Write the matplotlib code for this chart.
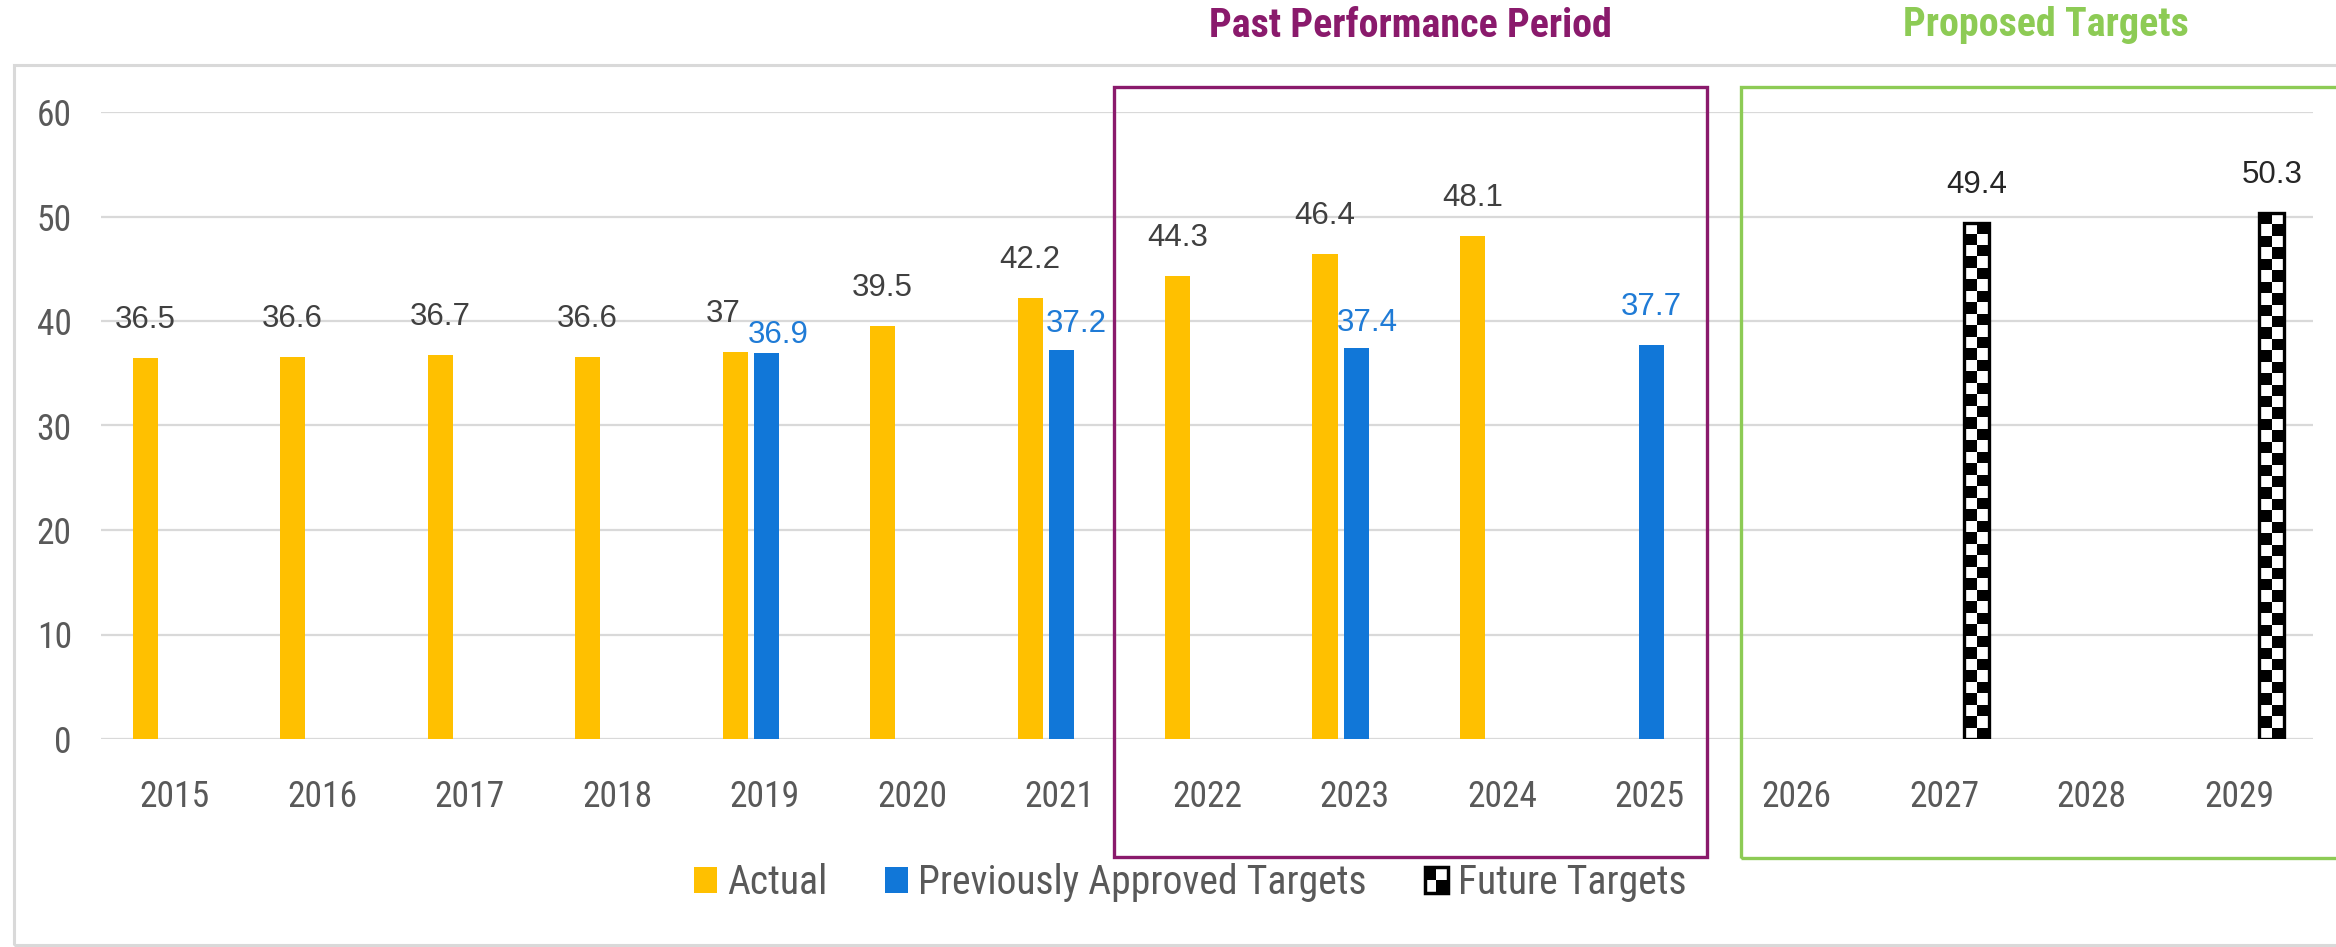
import numpy as np
import matplotlib
matplotlib.use("Agg")
import matplotlib.pyplot as plt
from matplotlib.patches import Patch, Rectangle
from matplotlib.legend_handler import HandlerBase
from matplotlib.colors import ListedColormap
from matplotlib.font_manager import fontManager, FontProperties
from matplotlib.textpath import TextPath

# chart data
years = ["2015", "2016", "2017", "2018", "2019", "2020", "2021", "2022",
         "2023", "2024", "2025", "2026", "2027", "2028", "2029"]
actual = [36.5, 36.6, 36.7, 36.6, 37, 39.5, 42.2, 44.3, 46.4, 48.1,
          None, None, None, None, None]
prev_targets = [None, None, None, None, 36.9, None, 37.2, None, 37.4, None,
                37.7, None, None, None, None]
future_targets = [None, None, None, None, None, None, None, None, None, None,
                  None, None, 49.4, None, 50.3]
series_names = ["Actual", "Previously Approved Targets", "Future Targets"]

YELLOW = "#FFC000"
BLUE = "#1177D8"
PURPLE = "#8A1A6C"
GREEN = "#8DCB55"

NARROW_CANDS = ["Liberation Sans Narrow", "Arial Narrow", "Archivo Narrow",
                "Roboto Condensed", "IBM Plex Sans Condensed",
                "Open Sans Condensed"]


def pick_font(cands, weight):
    # first family that has a static face close to the wanted weight
    for name in cands:
        ents = [f for f in fontManager.ttflist
                if f.name == name and f.style == "normal"
                and str(f.weight).isdigit()
                and abs(int(f.weight) - weight) <= 100
                and "[" not in f.fname]
        if ents:
            best = min(ents, key=lambda f: abs(int(f.weight) - weight))
            return FontProperties(fname=best.fname)
    for name in cands:
        if any(f.name == name for f in fontManager.ttflist):
            return FontProperties(family=name,
                                  weight="bold" if weight >= 600 else "normal")
    return FontProperties(family="DejaVu Sans",
                          weight="bold" if weight >= 600 else "normal")


def fit_size(fp, s, target_px):
    # font size (pt) that makes string s about target_px wide at dpi 100
    w = TextPath((0, 0), s, size=100, prop=fp).get_extents().width
    return target_px * 72.0 / w


def present(vals):
    idx = [i for i, v in enumerate(vals) if v is not None]
    return np.array(idx, dtype=float), np.array([vals[i] for i in idx])


class CheckerKey(Patch):
    pass


class CheckerHandler(HandlerBase):
    def create_artists(self, legend, orig_handle, xdescent, ydescent,
                       width, height, fontsize, trans):
        x0, y0 = -xdescent, -ydescent
        arts = [Rectangle((x0, y0), width, height, facecolor="white",
                          edgecolor="black", lw=2.5, transform=trans)]
        cw, ch = width / 2, height / 2
        for i, j in [(0, 1), (1, 0)]:
            arts.append(Rectangle((x0 + i * cw, y0 + j * ch), cw, ch,
                                  facecolor="black", edgecolor="none",
                                  transform=trans))
        return arts


narrow = pick_font(NARROW_CANDS, 400)
narrow_bold = pick_font(NARROW_CANDS, 700)
tick_size = fit_size(narrow, "2015", 67)
legend_size = fit_size(narrow, "Previously Approved Targets", 444)
title_size = fit_size(narrow_bold, "Past Performance Period", 400)

W, H = 2336, 947
fig = plt.figure(figsize=(W / 100, H / 100), dpi=100)
ax = fig.add_axes([101 / W, (H - 739) / H, 2212 / W, 627 / H])

bw = 0.17
xa, ya = present(actual)
xb, yb = present(prev_targets)
xf, yf = present(future_targets)

bars_a = ax.bar(xa - 0.2, ya, width=bw, color=YELLOW, zorder=3)
bars_b = ax.bar(xb + 0.015, yb, width=bw, color=BLUE, zorder=3)
bars_f = ax.bar(xf + 0.22, yf, width=bw, facecolor="none",
                edgecolor="black", linewidth=2.4, zorder=4)

# checkerboard fill for the future target bars
checker_cmap = ListedColormap(["white", "black"])
for rect in bars_f:
    x0, w, h = rect.get_x(), rect.get_width(), rect.get_height()
    rows = max(1, int(round(h / 1.1)))
    grid = np.add.outer(np.arange(rows), np.arange(2)) % 2
    im = ax.imshow(grid, cmap=checker_cmap, extent=(x0, x0 + w, 0, h),
                   origin="lower", interpolation="nearest", aspect="auto",
                   zorder=3.5)
    im.set_clip_path(rect)

ax.set_xlim(-0.5, len(years) - 0.5)
ax.set_ylim(0, 60)
ax.set_xticks(range(len(years)))
ax.set_xticklabels(years)
ax.set_yticks(range(0, 61, 10))
ax.yaxis.grid(True, color="#D9D9D9", lw=1.6)
ax.set_axisbelow(True)
for s in ax.spines.values():
    s.set_visible(False)
ax.tick_params(axis="x", length=0, pad=29, labelcolor="#595959")
ax.tick_params(axis="y", length=0, pad=21, labelcolor="#595959")
for lab in ax.get_xticklabels() + ax.get_yticklabels():
    lab.set_fontproperties(narrow)
    lab.set_fontsize(tick_size)

# value labels; a few were nudged by hand in the original
nudge = {("b", 4): (11, 10), ("b", 6): (15, 18), ("b", 8): (11, 17),
         ("a", 4): (-12, 30)}
px = 0.72
for key, bars, xs, ys, col in [("a", bars_a, xa, ya, "#404040"),
                               ("b", bars_b, xb, yb, "#1F7BD6"),
                               ("f", bars_f, xf, yf, "#262626")]:
    for rect, xi, v in zip(bars, xs, ys):
        dx, gap = nudge.get((key, int(xi)), (0, 30))
        ax.annotate(f"{v:g}", (rect.get_x() + rect.get_width() / 2, v),
                    xytext=(dx * px, gap * px), textcoords="offset points",
                    ha="center", va="baseline", fontsize=22.5, color=col,
                    family="Liberation Sans", zorder=5)

# legend
handles = [Patch(facecolor=YELLOW), Patch(facecolor=BLUE),
           CheckerKey(facecolor="white")]
lp = narrow.copy()
lp.set_size(legend_size)
em = legend_size * 100 / 72
fig.legend(handles, series_names, loc="center",
           bbox_to_anchor=(1190 / W, 1 - 882 / H), ncol=3, frameon=False,
           prop=lp, labelcolor="#595959",
           handlelength=23 / em, handleheight=25 / em, handletextpad=10 / em,
           columnspacing=58 / em, handler_map={CheckerKey: CheckerHandler()})

# frames
fig.add_artist(Rectangle((14 / W, 2 / H), 2400 / W, 880 / H,
                         transform=fig.transFigure, fill=False,
                         edgecolor="#D9D9D9", lw=2.2))
fig.add_artist(Rectangle((1114 / W, 90 / H), 593 / W, 770 / H,
                         transform=fig.transFigure, fill=False,
                         edgecolor=PURPLE, lw=2.4))
fig.add_artist(Rectangle((1741 / W, 89 / H), 700 / W, 771 / H,
                         transform=fig.transFigure, fill=False,
                         edgecolor=GREEN, lw=2.4))

tp = narrow_bold.copy()
tp.set_size(title_size)
fig.text(1410 / W, 1 - 37 / H, "Past Performance Period", ha="center",
         va="baseline", color=PURPLE, fontproperties=tp)
fig.text(2046 / W, 1 - 36 / H, "Proposed Targets", ha="center",
         va="baseline", color=GREEN, fontproperties=tp)

fig.savefig("out.png", dpi=100, facecolor="white")
